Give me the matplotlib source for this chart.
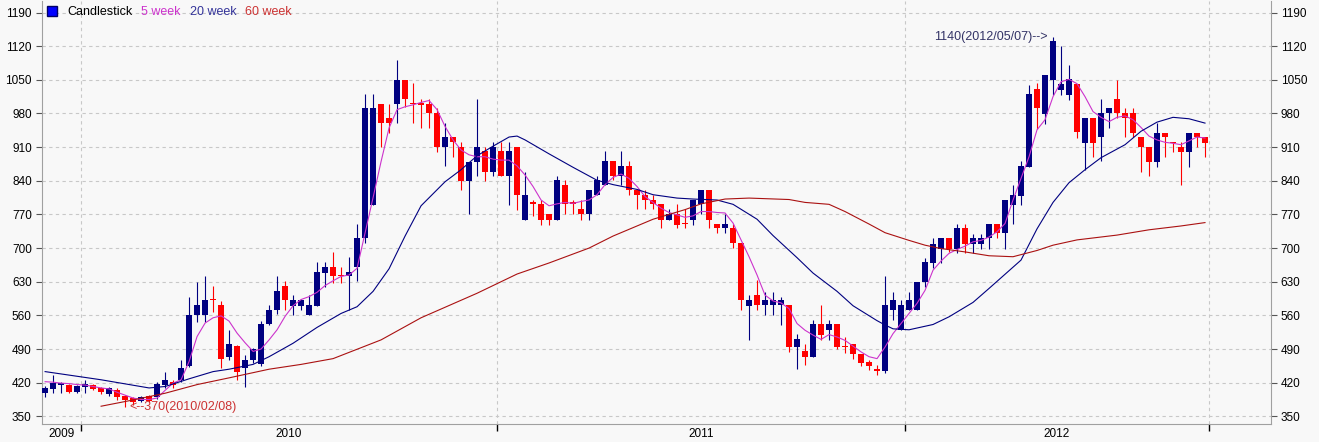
import numpy as np
import matplotlib.pyplot as plt

# weekly candles, week 0 = first candle on the chart
opens = [399, 406, 416, 416, 400, 410, 416, 408, 396, 405,
         393, 389, 382, 392, 390, 415, 422, 426, 455, 561,
         561, 593, 582, 474, 496, 450, 467, 459, 541, 571,
         621, 579, 580, 560, 580, 649, 660, 643, 641, 660,
         720, 790, 999, 970, 999, 1050, 1001, 1001, 999, 981,
         910, 931, 910, 840, 880, 901, 859, 901, 850, 910,
         759, 795, 792, 771, 759, 832, 793, 782, 771, 811,
         832, 882, 850, 871, 821, 811, 800, 792, 759, 771,
         751, 759, 792, 821, 750, 741, 741, 710, 580, 603,
         581, 581, 581, 581, 494, 485, 474, 542, 529, 542,
         495, 501, 479, 462, 449, 444, 571, 529, 571, 571,
         630, 669, 699, 720, 699, 741, 709, 709, 720, 751,
         731, 790, 809, 869, 1030, 979, 1049, 1029, 1019, 1042,
         919, 970, 931, 981, 1010, 981, 981, 931, 910, 880,
         940, 921, 910, 899, 940, 931]
highs = [413, 436, 422, 418, 415, 425, 418, 410, 412, 408,
         395, 391, 393, 395, 422, 443, 425, 467, 599, 630,
         641, 621, 590, 530, 498, 478, 493, 549, 582, 642,
         632, 602, 595, 602, 672, 672, 691, 661, 681, 750,
         1021, 1021, 999, 999, 1092, 1050, 1043, 1010, 1010, 991,
         960, 931, 920, 880, 1010, 910, 920, 920, 920, 910,
         859, 800, 800, 771, 850, 841, 800, 800, 821, 849,
         901, 882, 901, 882, 821, 821, 811, 792, 782, 792,
         782, 800, 821, 821, 750, 771, 750, 710, 602, 634,
         609, 609, 598, 581, 522, 501, 550, 581, 550, 542,
         515, 501, 479, 467, 456, 641, 609, 592, 609, 630,
         680, 720, 720, 720, 750, 750, 730, 730, 750, 751,
         800, 831, 882, 1040, 1043, 1060, 1140, 1120, 1081, 1042,
         970, 970, 1010, 991, 1050, 991, 991, 931, 910, 960,
         940, 921, 920, 940, 940, 931]
lows = [391, 399, 399, 398, 399, 399, 404, 396, 392, 383,
        370, 374, 380, 380, 385, 408, 408, 422, 453, 547,
        547, 568, 450, 467, 425, 410, 460, 455, 540, 562,
        571, 561, 571, 560, 580, 620, 628, 628, 572, 632,
        710, 790, 911, 940, 960, 994, 960, 949, 949, 899,
        870, 890, 820, 770, 850, 840, 850, 850, 790, 779,
        759, 766, 748, 748, 759, 771, 771, 759, 759, 811,
        832, 841, 832, 811, 782, 782, 782, 741, 759, 741,
        741, 748, 771, 741, 731, 731, 700, 571, 509, 571,
        560, 560, 540, 484, 449, 456, 474, 508, 508, 491,
        481, 470, 454, 446, 435, 440, 550, 529, 571, 571,
        619, 659, 668, 692, 689, 689, 689, 699, 699, 720,
        699, 751, 790, 869, 948, 958, 1019, 1019, 1008, 930,
        863, 890, 882, 949, 970, 931, 931, 859, 850, 869,
        890, 899, 831, 869, 910, 890]
closes = [408, 419, 420, 400, 413, 417, 406, 401, 408, 391,
          384, 380, 391, 382, 417, 426, 415, 450, 561, 582,
          592, 591, 469, 500, 443, 467, 491, 541, 571, 611,
          592, 592, 591, 582, 650, 660, 641, 641, 650, 720,
          991, 991, 960, 960, 1050, 1010, 999, 998, 981, 910,
          931, 920, 840, 880, 910, 859, 910, 850, 901, 810,
          811, 792, 759, 759, 842, 792, 792, 771, 821, 842,
          882, 850, 871, 821, 811, 800, 792, 759, 771, 748,
          750, 800, 821, 759, 741, 750, 710, 592, 592, 581,
          592, 592, 592, 494, 510, 474, 542, 519, 542, 494,
          494, 479, 460, 454, 444, 581, 592, 581, 592, 630,
          671, 709, 720, 699, 741, 709, 720, 720, 750, 731,
          800, 810, 871, 1021, 991, 1060, 1130, 1042, 1051, 942,
          970, 919, 981, 991, 981, 970, 940, 910, 880, 940,
          931, 918, 899, 940, 931, 919]

# 5 week average, read at every week
ma5 = [422, 421, 419, 418, 416, 415, 412, 409, 407, 400,
       394, 388, 385, 385, 388, 404, 419, 426, 464, 516,
       544, 555, 559, 548, 523, 503, 485, 490, 509, 530,
       558, 580, 593, 599, 608, 622, 632, 641, 644, 658,
       731, 805, 880, 950, 988, 994, 998, 1003, 1007, 988,
       953, 925, 904, 894, 890, 890, 885, 883, 883, 871,
       852, 828, 800, 788, 792, 795, 793, 797, 800, 811,
       832, 847, 854, 845, 828, 807, 795, 783, 774, 769,
       764, 767, 776, 776, 774, 773, 752, 717, 682, 644,
       602, 590, 586, 574, 543, 529, 519, 510, 520, 515,
       508, 496, 484, 474, 470, 494, 522, 543, 564, 585,
       612, 654, 673, 689, 697, 704, 713, 716, 723, 734,
       751, 800, 845, 890, 946, 967, 1015, 1046, 1051, 1042,
       1015, 984, 972, 963, 972, 975, 967, 951, 933, 925,
       920, 918, 915, 923, 931, 929]

# 20 week and 60 week averages, read at the weeks listed
ma20_week = [0, 7, 13, 15, 18, 21, 23, 26, 28, 31, 34, 37, 39, 41, 43, 45, 47,
             50, 52, 54, 56, 58, 59, 60, 63, 66, 69, 71, 74, 76, 79, 81, 84,
             86, 89, 91, 94, 96, 99, 101, 104, 105, 106, 108, 111, 113, 116,
             118, 122, 124, 126, 128, 130, 132, 135, 137, 139, 141, 143, 145]
ma20 = [443, 426, 409, 412, 428, 443, 448, 458, 474, 502, 535, 564, 578, 610,
        657, 725, 788, 838, 863, 892, 912, 931, 933, 925, 896, 868, 841, 832,
        822, 811, 804, 802, 800, 791, 760, 726, 680, 648, 610, 580, 549, 540,
        532, 530, 541, 557, 587, 616, 675, 740, 795, 836, 863, 888, 915, 943,
        962, 972, 969, 960]
ma60_week = [7, 11, 15, 19, 23, 28, 32, 36, 42, 47, 54, 59, 63, 68, 71, 76, 80,
             82, 85, 88, 93, 95, 98, 100, 103, 105, 108, 110, 112, 115, 118,
             121, 124, 126, 129, 134, 138, 142, 145]
ma60 = [371, 384, 398, 416, 430, 448, 458, 470, 509, 555, 606, 646, 669, 700,
        725, 760, 780, 792, 802, 804, 801, 795, 791, 776, 750, 732, 716, 706,
        699, 692, 684, 682, 695, 706, 717, 727, 738, 746, 753]

year_labels = ['2009', '2010', '2011', '2012']
year_first_week = [0, 5, 57, 108]

low_week, low_text = 10, '<--370(2010/02/08)'
high_week, high_text = 126, '1140(2012/05/07)-->'

up_color = '#000080'
down_color = '#ff0000'

plt.rcParams['font.family'] = ['Liberation Sans', 'DejaVu Sans']

fig = plt.figure(figsize=(13.19, 4.42), dpi=100, facecolor='#f8f8f8')
ax = fig.add_axes([41.5/1319, 18/442, 1229.5/1319, 423/442], facecolor='#f8f8f8')

o = np.array(opens)
h = np.array(highs)
l = np.array(lows)
c = np.array(closes)
x = np.arange(len(o))
colors = np.where(c >= o, up_color, down_color)

ax.vlines(x, l, h, color=colors, lw=0.8, zorder=3)
ax.bar(x, np.maximum(np.abs(c - o), 3), bottom=np.minimum(o, c), width=0.75,
       color=colors, linewidth=0, zorder=4)

ax.plot(x, ma5, color='#cc33cc', lw=0.8, zorder=5)
ax.plot(ma20_week, ma20, color='#000080', lw=0.8, zorder=5)
ax.plot(ma60_week, ma60, color='#aa1111', lw=0.8, zorder=5)

ax.annotate(low_text, xy=(low_week, lows[low_week]), xytext=(3, 0),
            textcoords='offset points', ha='left', va='center',
            fontsize=9, color='#cc3333', zorder=6)
ax.annotate(high_text, xy=(high_week, highs[high_week]), xytext=(-4, 0),
            textcoords='offset points', ha='right', va='center',
            fontsize=9, color='#333366', zorder=6)

# axes
n = len(o)
left = -0.45
ax.set_xlim(left, 153.25)
ax.set_ylim(334, 1214)

bounds = [w - 0.5 for w in year_first_week[1:]] + [n - 0.5]
starts = [left] + bounds[:-1]
mids = [(a + b) / 2 for a, b in zip(starts, bounds)]
ax.set_xticks(bounds)
ax.set_xticklabels([])
ax.set_xticks(mids, minor=True)
ax.set_xticklabels(year_labels, minor=True)
ax.tick_params(axis='x', which='major', length=5, width=1, color='black', direction='out')
ax.tick_params(axis='x', which='minor', length=0, pad=3, labelsize=8.5)

ax.set_yticks(np.arange(350, 1191, 70))
ax.tick_params(axis='y', left=True, right=True, labelleft=True, labelright=True,
               length=4, width=0.8, color='#555555', pad=3, labelsize=8.5)

ax.grid(True, which='major', ls=(0, (3, 3)), color='#c8c8c8', lw=0.8)
ax.set_axisbelow(True)
for side in ['left', 'right', 'bottom']:
    ax.spines[side].set_color('#a0a0a0')
ax.spines['top'].set_visible(False)

# legend
ax.plot([0.0085], [0.976], marker='s', markersize=7.5, color='#0000ff',
        markeredgecolor='#000066', transform=ax.transAxes, zorder=7)
t = ax.text(0.0207, 0.974, 'Candlestick', transform=ax.transAxes,
            fontsize=9, color='black', va='center', zorder=7)
for label, col in [('5 week', '#cc33cc'), ('20 week', '#333399'), ('60 week', '#cc3333')]:
    t = ax.annotate(label, xy=(1, 0.5), xycoords=t, xytext=(6.5, 0),
                    textcoords='offset points', va='center', fontsize=9,
                    color=col, zorder=7)

plt.savefig('out.png', dpi=100, facecolor=fig.get_facecolor())
